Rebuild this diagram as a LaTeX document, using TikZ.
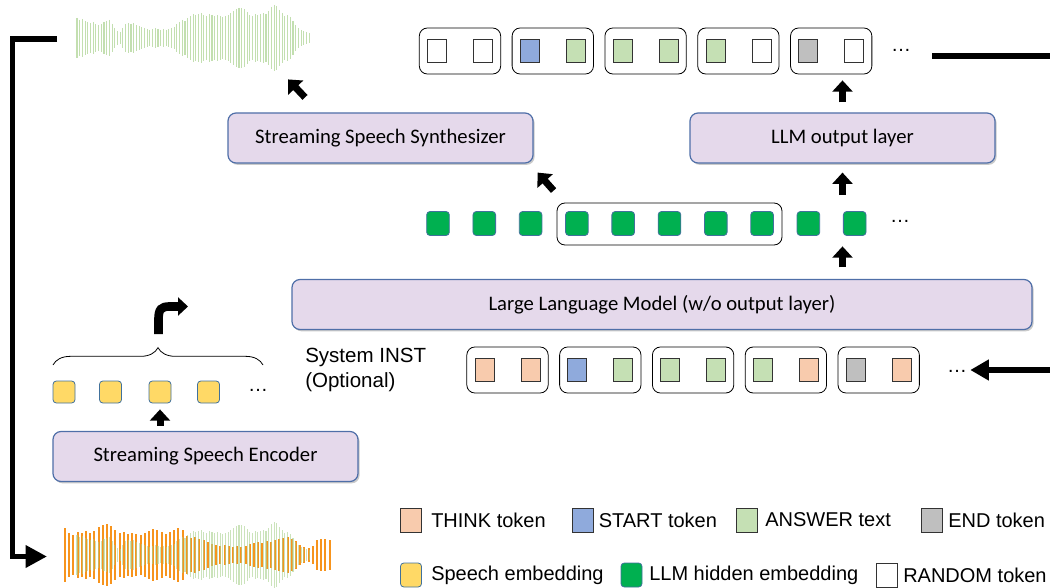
\documentclass[tikz,border=0pt]{standalone}
\usepackage{fontspec}
\setmainfont{Liberation Sans}
\newfontfamily\calfont{Carlito}
\usetikzlibrary{arrows.meta,shadows,decorations.pathreplacing,calc}
\definecolor{boxfill}{HTML}{E5D9EB}
\definecolor{boxline}{HTML}{4F6FA8}
\definecolor{think}{HTML}{F8CBAD}
\definecolor{start}{HTML}{8FAADC}
\definecolor{answer}{HTML}{C5E0B4}
\definecolor{endt}{HTML}{BFBFBF}
\definecolor{speech}{HTML}{FFD966}
\definecolor{hidden}{HTML}{00B050}
\definecolor{embline}{HTML}{41719C}
\definecolor{wavegreen}{HTML}{A9D18E}
\definecolor{waveorange}{HTML}{F7941D}
\newcommand\greenwaves[2]{%
  \foreach \a [count=\i] in {20,18,19,17,16,15,16,14,13,14,16,17,18,14,10,7,6,10,14,15,14,15,13,12,11,10,9,8,9,10,9,8,9,8,9,10,11,14,16,18,17,20,22,24,23,24,25,23,22,24,23,22,23,22,21,22,23,25,27,29,30,30,29,26,23,22,24,23,24,25,24,27,31,33,32,28,25,22,23,21,17,13,10,8,7,6,5}
    {\draw[gwline, opacity=#2] ({77+2.7*(\i-1)},{#1-\a}) -- ({77+2.7*(\i-1)},{#1+\a});}}
\begin{document}
\begin{tikzpicture}[x=0.75pt,y=-0.75pt,
  gwline/.style={draw=wavegreen, line width=0.8pt},
  owline/.style={draw=waveorange, line width=1.6pt},
  mbox/.style={draw=boxline, line width=0.9pt, fill=boxfill, rounded corners=6pt,
    drop shadow={shadow xshift=1.2pt, shadow yshift=-1.4pt, opacity=0.35, fill=black!60},
    font=\calfont\fontsize{15.5}{18}\selectfont, inner sep=0pt, minimum height=37.5pt,
    minimum width=228.75pt},
  grp/.style={draw=black, line width=0.6pt, rounded corners=6pt, fill=white,
    minimum width=61pt, minimum height=34.5pt, inner sep=0pt},
  tok/.style={draw=black!80, line width=0.6pt, minimum width=14.25pt, minimum height=17.25pt, inner sep=0pt},
  hid/.style={draw=embline, fill=hidden, line width=0.6pt, rounded corners=2.5pt,
    minimum width=17pt, minimum height=18pt, inner sep=0pt},
  spe/.style={draw=embline, fill=speech, line width=0.6pt, rounded corners=2.5pt,
    minimum width=16.5pt, minimum height=16.5pt, inner sep=0pt},
  leg/.style={draw=black!80, line width=0.6pt, minimum width=15.75pt, minimum height=18pt, inner sep=0pt},
  legtxt/.style={anchor=west, inner sep=0pt, font=\fontsize{15}{18}\selectfont},
  dots/.style={inner sep=0pt, font=\fontsize{15}{18}\selectfont},
  blockarrow/.style={line width=5.25pt, -{Triangle[length=8.5pt,width=15pt]}},
  thickline/.style={line width=4pt}
]
\useasboundingbox (0,0) rectangle (1050,588);

% ---- waveforms
\greenwaves{38}{0.7}
\foreach \a [count=\i] in {27,22,20,23,22,24,22,24,28,30,31,29,25,22,23,21,22,21,20,22,24,26,25,23,21,23,25,27,25,19,17,18,16,15,13,11,10,9,10,9,8,9,8,9,11,12,13,12,14,13,15,16,17,18,16,14,10,8,7,9,15,16,16,15}
  {\draw[owline] ({65+4.2*(\i-1)},{555-\a}) -- ({65+4.2*(\i-1)},{555+\a});}
\greenwaves{555}{0.6}

% ---- main boxes
\node[mbox] (synth) at (380.5,138) {Streaming Speech Synthesizer};
\node[mbox] (outl) at (842.5,138) {LLM output layer};
\node[mbox, minimum width=555pt] (llm) at (662,304.5) {Large Language Model (w/o output layer)};
\node[mbox] (enc) at (205.5,456.5) {Streaming Speech Encoder};

% ---- top token row
\foreach \l/\r [count=\i] in {white/white,start/answer,answer/answer,answer/white,endt/white}{
  \node[grp] (tg\i) at ({460+92.8*(\i-1)},51) {};
  \node[tok, fill=\l] (tga\i) at ($(tg\i)+(-23,0)$) {};
  \node[tok, fill=\r] (tgb\i) at ($(tg\i)+(23,0)$) {};
}
\node[dots] (tdots) at (901,50) {…};
\coordinate (routS) at (932,56);
\coordinate (rout) at (1050,56);
\draw[thickline] (routS) -- (rout);

% ---- bottom token row
\foreach \l/\r [count=\i] in {think/think,start/answer,answer/answer,answer/think,endt/think}{
  \node[grp] (bg\i) at ({507.5+92.8*(\i-1)},370) {};
  \node[tok, fill=\l] (bga\i) at ($(bg\i)+(-23,0)$) {};
  \node[tok, fill=\r] (bgb\i) at ($(bg\i)+(23,0)$) {};
}
\node[dots] (bdots) at (957,371) {…};
\coordinate (rin) at (1050,370);
\draw[line width=5pt, -{Triangle[length=14pt,width=15pt]}] (rin) -- ($(bdots.east)+(3,-1)$);

\node[anchor=west, align=left, inner sep=0pt, font=\fontsize{15.4}{18.75}\selectfont] (sys) at (305,369.5) {System INST\\(Optional)};

% ---- hidden embedding row
\node[draw=black, line width=0.6pt, rounded corners=6pt, minimum width=168.75pt, minimum height=31.5pt] (hgrp) at (669.5,224) {};
\foreach \i in {1,...,10}{
  \node[hid] (h\i) at ({438+46.3*(\i-1)},223.5) {};
}
\node[dots] (hdots) at (900,221) {…};

% ---- speech embedding row
\foreach \i/\x in {1/64,2/110.5,3/160,4/208.5}{
  \node[spe] (y\i) at (\x,392) {};
}
\node[dots] (ydots) at (258,390) {…};
\coordinate (brL) at (53,365);
\coordinate (brR) at (263,365);
\draw[line width=0.6pt, decorate, decoration={brace, amplitude=13pt}] (brL) -- (brR);
\coordinate (bentS) at (158.5,334);
\draw[line width=6.5pt, -{Triangle[length=7.5pt,width=13.5pt]}] (bentS) -- (158.5,320) .. controls (158.5,309) and (161,306.5) .. (170,306.5) -- (188,306.5);

% ---- block arrows
\draw[blockarrow] ($(enc.north -| y3.south)+(0,-5)$) -- ($(y3.south)+(0,6)$);
\draw[blockarrow] ($(llm.north -| outl.south)+(0,-11.5)$) -- ($(outl.south |- h10.south)+(0,10.5)$);
\draw[blockarrow] ($(outl.south |- h10.north)+(0,-16)$) -- ($(outl.south)+(0,9)$);
\draw[blockarrow] ($(outl.north)+(0,-10)$) -- ($(outl.north |- tg5.south)+(0,6)$);
\draw[blockarrow] ($(synth.south east)+(20,27)$) -- ($(synth.south east)+(4,9)$);
\draw[blockarrow] ($(synth.north)+(-75.5,-15)$) -- ($(synth.north)+(-92.5,-33)$);

% ---- left feedback connector
\coordinate (wtopL) at (57,39);
\coordinate (wbotL) at (47,556.5);
\draw[thickline, -{Triangle[length=16pt,width=16pt]}] (wtopL) -- ++(-44.3,0) |- (wbotL);

% ---- legend
\node[leg, fill=think] (lthink) at (411,520) {};
\node[legtxt] (tthink) at (431,520) {THINK token};
\node[leg, fill=start] (lstart) at (583,520) {};
\node[legtxt] (tstart) at (598.5,520) {START token};
\node[leg, fill=answer] (lanswer) at (747,520) {};
\node[legtxt] (tanswer) at (765,520) {ANSWER text};
\node[leg, fill=endt] (lend) at (932,520) {};
\node[legtxt] (tend) at (948,520) {END token};
\node[leg, fill=speech, draw=embline, rounded corners=2.5pt] (lspeech) at (411,575) {};
\node[legtxt] (tspeech) at (431,575) {Speech embedding};
\node[leg, fill=hidden, draw=embline, rounded corners=2.5pt] (lhidden) at (631.5,575) {};
\node[legtxt] (thidden) at (649,575) {LLM hidden embedding};
\node[leg, fill=white] (lrandom) at (887,575) {};
\node[legtxt] (trandom) at (903,575) {RANDOM token};
\end{tikzpicture}
\end{document}
